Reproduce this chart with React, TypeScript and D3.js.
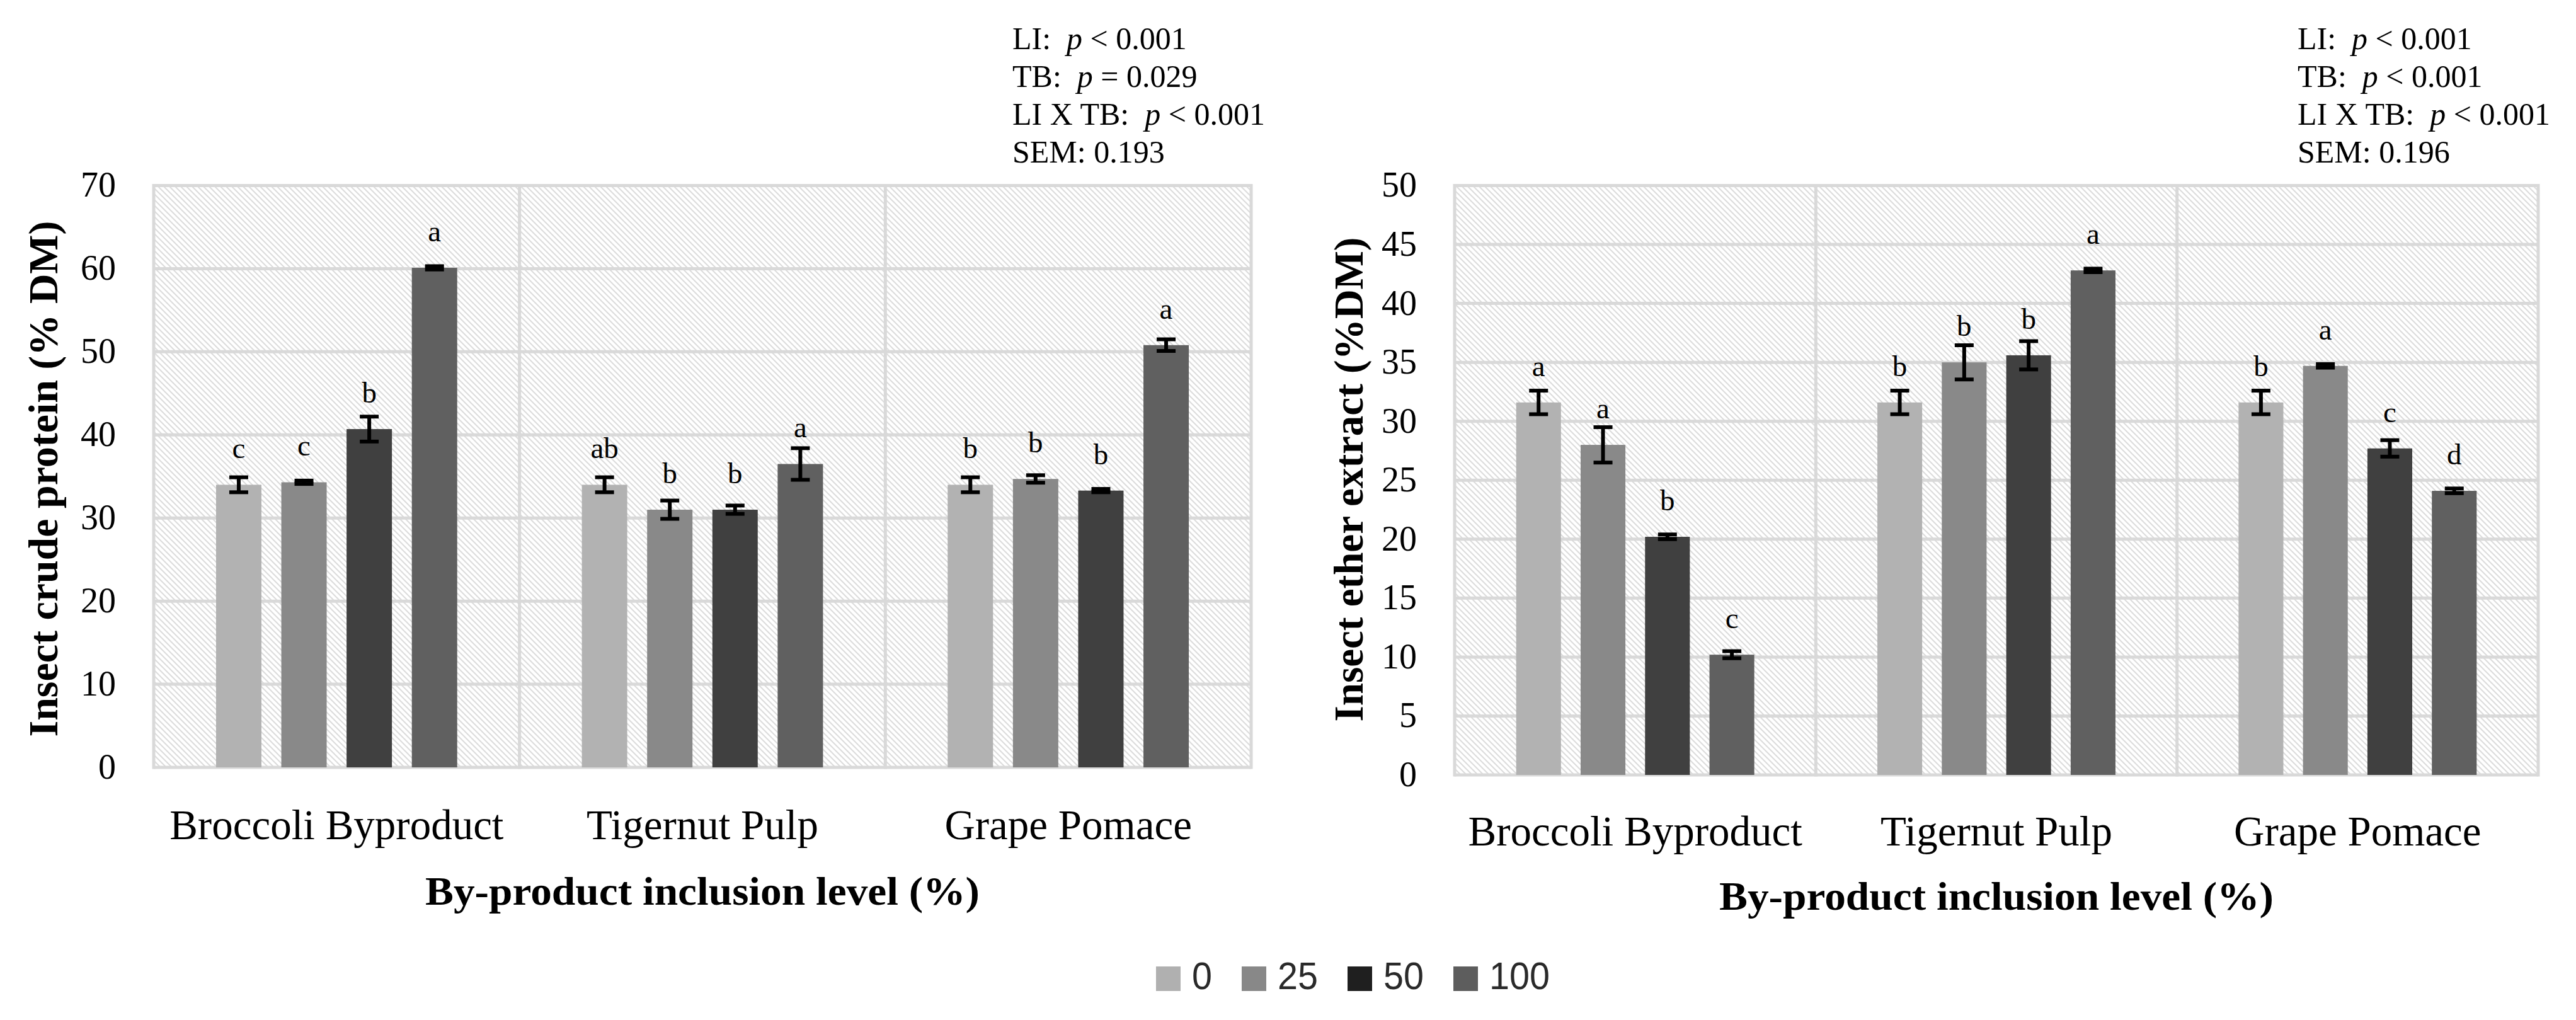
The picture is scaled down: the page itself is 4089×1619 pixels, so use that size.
import React from 'react';
import * as d3 from 'd3';

const categories = ['Broccoli Byproduct', 'Tigernut Pulp', 'Grape Pomace'];
const levels = ['0', '25', '50', '100'];

const proteinMeans = [
  [34.0, 34.3, 40.7, 60.1],
  [34.0, 31.0, 31.0, 36.5],
  [34.0, 34.7, 33.3, 50.8],
];
const proteinErrors = [
  [0.9, 0.2, 1.5, 0.2],
  [0.9, 1.1, 0.5, 1.9],
  [0.9, 0.45, 0.2, 0.7],
];
const proteinLetters = [
  ['c', 'c', 'b', 'a'],
  ['ab', 'b', 'b', 'a'],
  ['b', 'b', 'b', 'a'],
];
const proteinTicks = [0, 10, 20, 30, 40, 50, 60, 70];

const etherMeans = [
  [31.6, 28.0, 20.2, 10.2],
  [31.6, 35.0, 35.6, 42.8],
  [31.6, 34.7, 27.7, 24.1],
];
const etherErrors = [
  [1.0, 1.5, 0.2, 0.3],
  [1.0, 1.45, 1.2, 0.15],
  [1.0, 0.15, 0.7, 0.2],
];
const etherLetters = [
  ['a', 'a', 'b', 'c'],
  ['b', 'b', 'b', 'a'],
  ['b', 'a', 'c', 'd'],
];
const etherTicks = [0, 5, 10, 15, 20, 25, 30, 35, 40, 45, 50];

const proteinStats = [
  { label: 'LI:  ', op: ' < 0.001' },
  { label: 'TB:  ', op: ' = 0.029' },
  { label: 'LI X TB:  ', op: ' < 0.001' },
];
const proteinSEM = 'SEM: 0.193';
const etherStats = [
  { label: 'LI:  ', op: ' < 0.001' },
  { label: 'TB:  ', op: ' < 0.001' },
  { label: 'LI X TB:  ', op: ' < 0.001' },
];
const etherSEM = 'SEM: 0.196';

const barColors = ['#b2b2b2', '#898989', '#404040', '#606060'];
const legendColors = ['#b0b0b0', '#888888', '#1f1f1f', '#5d5d5d'];
const GRID = '#d9d9d9';
const SERIF = '"Liberation Serif", "Times New Roman", serif';

type PanelProps = {
  x0: number; x1: number; yTop: number; yBottom: number; maxY: number;
  ticks: number[]; means: number[][]; errors: number[][]; letters: string[][];
  yTitle: string; yTitleX: number; yTitleY: number; yTitleLen: number;
  catBaseline: number; titleBaseline: number;
  stats: { label: string; op: string }[]; sem: string; statsX: number;
};

function Panel(p: PanelProps) {
  const x = d3.scaleBand<string>().domain(categories).range([p.x0, p.x1]).padding(0);
  const y = d3.scaleLinear().domain([0, p.maxY]).range([p.yBottom, p.yTop]);
  const band = x.bandwidth();
  const step = band * 0.1784;
  const inner = d3.scaleBand<string>().domain(levels)
    .range([band / 2 - 2 * step, band / 2 + 2 * step])
    .paddingInner(0.305).paddingOuter(0.1525);
  const bw = inner.bandwidth();
  const boundaries = [...categories.map((c) => x(c) as number), p.x1];
  const cx = (p.x0 + p.x1) / 2;
  return (
    <g>
      <rect x={p.x0} y={p.yTop} width={p.x1 - p.x0} height={p.yBottom - p.yTop} fill="url(#hatch)" />
      {p.ticks.map((t) => (
        <line key={'h' + t} x1={p.x0} x2={p.x1} y1={y(t)} y2={y(t)} stroke={GRID} strokeWidth={5} />
      ))}
      {boundaries.map((b, i) => (
        <line key={'v' + i} x1={b} x2={b} y1={p.yTop - 2.5} y2={p.yBottom + 2.5} stroke={GRID} strokeWidth={5} />
      ))}
      {p.ticks.map((t) => (
        <text key={'t' + t} x={p.x0 - 60} y={y(t)} dy="0.32em" textAnchor="end"
          fontFamily={SERIF} fontSize={56} fill="#000">{t}</text>
      ))}
      {categories.map((c, ci) => (
        <g key={c} transform={`translate(${x(c)},0)`}>
          {levels.map((l, li) => {
            const v = p.means[ci][li];
            const e = p.errors[ci][li];
            const bx = inner(l) as number;
            const mid = bx + bw / 2;
            return (
              <g key={l}>
                <rect x={bx} y={y(v)} width={bw} height={y(0) - y(v)} fill={barColors[li]} />
                <line x1={mid} x2={mid} y1={y(v + e)} y2={y(v - e)} stroke="#000" strokeWidth={6} />
                <line x1={mid - 15} x2={mid + 15} y1={y(v + e)} y2={y(v + e)} stroke="#000" strokeWidth={6} />
                <line x1={mid - 15} x2={mid + 15} y1={y(v - e)} y2={y(v - e)} stroke="#000" strokeWidth={6} />
                <text x={mid} y={y(v) - 42} textAnchor="middle" fontFamily={SERIF} fontSize={47} fill="#000">
                  {p.letters[ci][li]}
                </text>
              </g>
            );
          })}
          <text x={band / 2} y={p.catBaseline} textAnchor="middle" fontFamily={SERIF} fontSize={67} fill="#000">{c}</text>
        </g>
      ))}
      <text x={cx} y={p.titleBaseline} textAnchor="middle" fontFamily={SERIF} fontWeight="bold" fontSize={64}
        textLength={880} lengthAdjust="spacingAndGlyphs" fill="#000">By-product inclusion level (%)</text>
      <text transform={`translate(${p.yTitleX},${p.yTitleY}) rotate(-90)`} textAnchor="middle" fontFamily={SERIF}
        fontWeight="bold" fontSize={66} textLength={p.yTitleLen} lengthAdjust="spacingAndGlyphs" fill="#000">{p.yTitle}</text>
      <g fontFamily={SERIF} fontSize={50} fill="#000" style={{ whiteSpace: 'pre' }}>
        {p.stats.map((s, i) => (
          <text key={i} x={p.statsX} y={78 + i * 60} xmlSpace="preserve">
            {s.label}<tspan fontStyle="italic">p</tspan>{s.op}
          </text>
        ))}
        <text x={p.statsX} y={78 + 3 * 60}>{p.sem}</text>
      </g>
    </g>
  );
}

function Legend() {
  const digitW = 32;
  let cur = 1835;
  const items = levels.map((l, i) => {
    const sx = cur;
    const tx = sx + 39 + 18;
    const tw = digitW * l.length;
    cur = tx + tw + 47;
    return { l, i, sx, tx, tw };
  });
  return (
    <g>
      {items.map((it) => (
        <g key={it.l}>
          <rect x={it.sx} y={1534} width={39} height={39} fill={legendColors[it.i]} />
          <text x={it.tx} y={1570} fontFamily='"Liberation Sans", Arial, sans-serif' fontSize={62}
            textLength={it.tw} lengthAdjust="spacingAndGlyphs" fill="#2a2a2a">{it.l}</text>
        </g>
      ))}
    </g>
  );
}

export default function App() {
  return (
    <svg width={4089} height={1619} viewBox="0 0 4089 1619"
      style={{ position: 'absolute', left: 0, top: 0, background: '#fff' }}>
      <defs>
        <pattern id="hatch" patternUnits="userSpaceOnUse" width={9} height={9}>
          <rect width={9} height={9} fill="#fff" />
          <path d="M-2,-2 L11,11 M-2,7 L2,11 M7,-2 L11,2" stroke="#dcdcdc" strokeWidth={2} />
        </pattern>
      </defs>
      <rect width={4089} height={1619} fill="#fff" />
      <Panel x0={244} x1={1986} yTop={294.5} yBottom={1218} maxY={70} ticks={proteinTicks}
        means={proteinMeans} errors={proteinErrors} letters={proteinLetters}
        yTitle="Insect crude protein (% DM)" yTitleX={91} yTitleY={760} yTitleLen={819}
        catBaseline={1332} titleBaseline={1436} stats={proteinStats} sem={proteinSEM} statsX={1607} />
      <Panel x0={2309} x1={4029} yTop={294.5} yBottom={1230} maxY={50} ticks={etherTicks}
        means={etherMeans} errors={etherErrors} letters={etherLetters}
        yTitle="Insect ether extract (%DM)" yTitleX={2163} yTitleY={761} yTitleLen={769}
        catBaseline={1342} titleBaseline={1444} stats={etherStats} sem={etherSEM} statsX={3647} />
      <Legend />
    </svg>
  );
}
